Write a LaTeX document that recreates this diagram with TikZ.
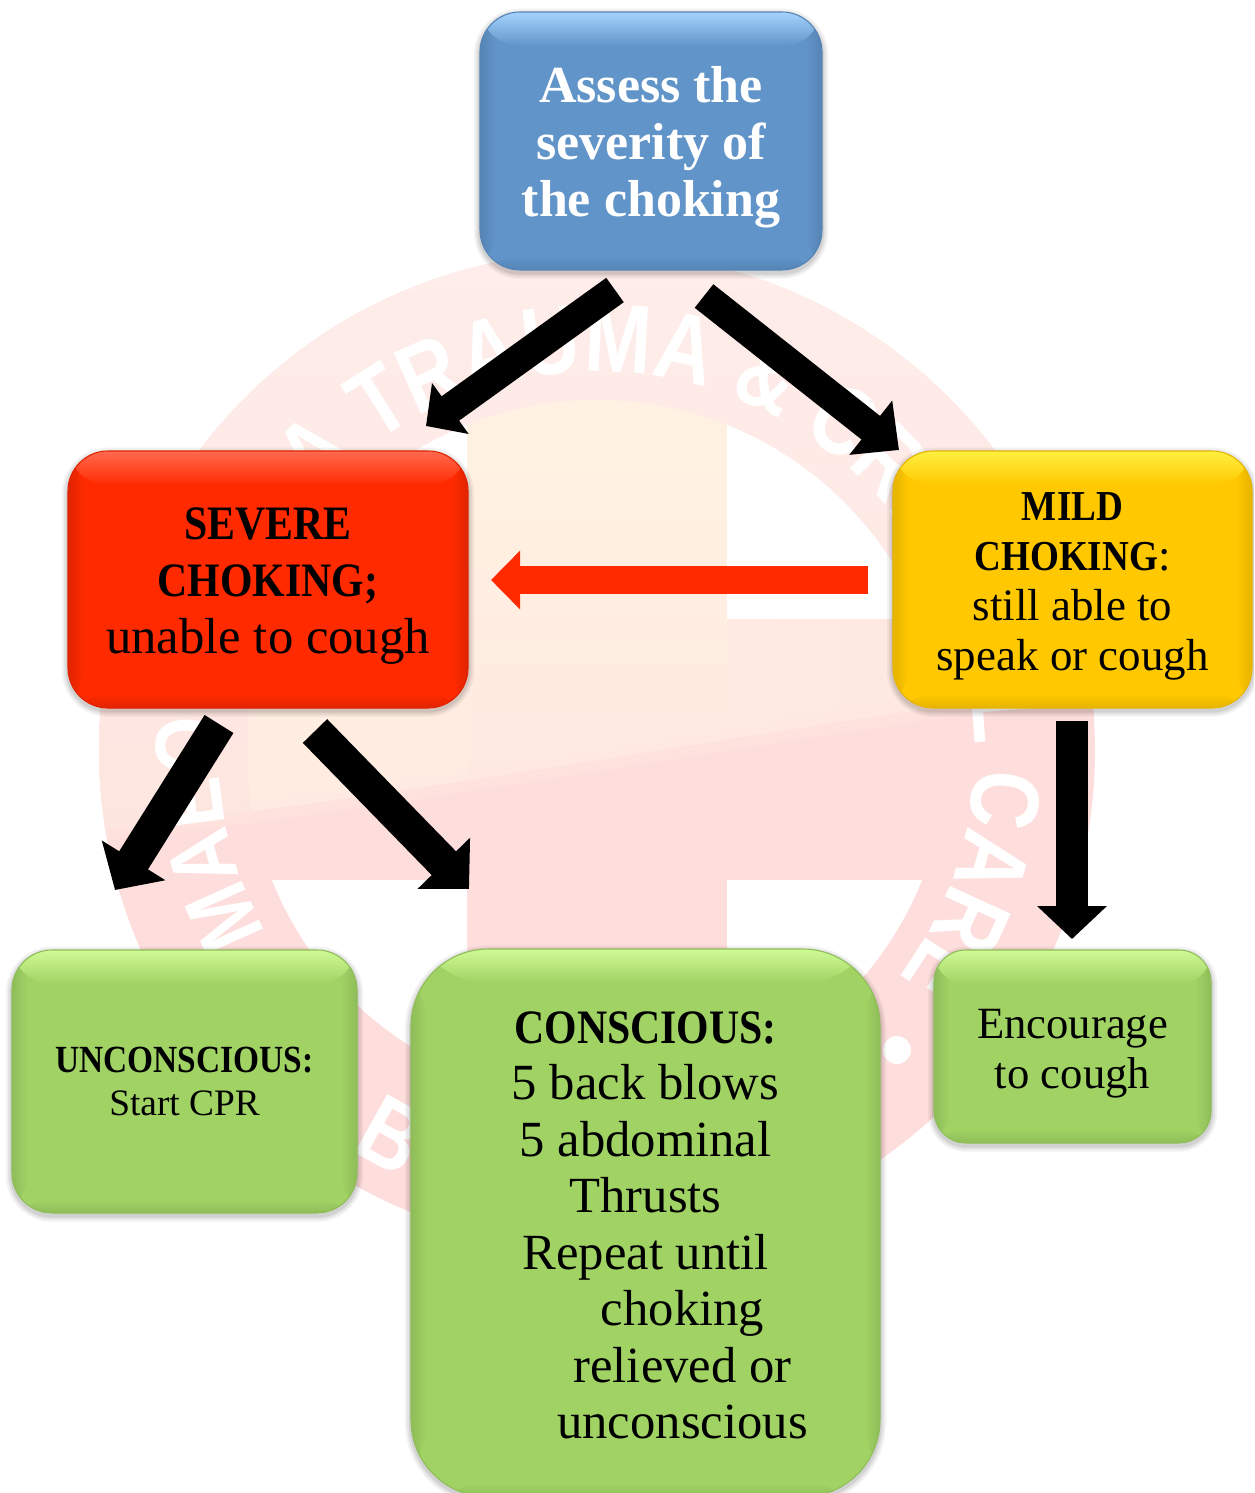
\documentclass[tikz,border=0pt]{standalone}
\usepackage{fontspec}
\setmainfont{Liberation Serif}
\newfontfamily\hb{Liberation Serif}[UprightFont=* Bold,FakeStretch=0.87]
\newfontfamily\bl{Liberation Serif}[UprightFont=* Bold]
\newfontfamily\wm{Liberation Sans}[UprightFont=* Bold,FakeStretch=0.825]
\usetikzlibrary{arrows.meta,calc,decorations.text}
\definecolor{redc}{HTML}{FF2A00}
\definecolor{bluec}{HTML}{6194C8}
\definecolor{bluet}{HTML}{A5D3FF}
\definecolor{blued}{HTML}{5584B5}
\definecolor{redt}{HTML}{FF6A50}
\definecolor{redd}{HTML}{E02400}
\definecolor{yelc}{HTML}{FFC800}
\definecolor{yelt}{HTML}{FFF040}
\definecolor{yeld}{HTML}{E6B400}
\definecolor{grnc}{HTML}{A0D264}
\definecolor{grnt}{HTML}{CFFA94}
\definecolor{grnd}{HTML}{8FBD59}
\definecolor{wmpink}{HTML}{FEDEDC}
\definecolor{wmtop}{HTML}{FEEDEA}
\definecolor{wmlow}{HTML}{FEE6E0}
\definecolor{crosstop}{HTML}{FFF2E2}
\definecolor{crosslow}{HTML}{FEE8E0}
\definecolor{armc}{HTML}{FFEDE2}
\tikzset{
  softshadow/.style={
    preaction={draw=black,opacity=.05,line width=9pt,transform canvas={yshift=-2pt}},
    preaction={draw=black,opacity=.06,line width=6pt,transform canvas={yshift=-2pt}},
    preaction={draw=black,opacity=.08,line width=3pt,transform canvas={yshift=-2pt}}},
  gloss/.style n args={3}{
    softshadow,draw=#3,line width=.8pt,
    path picture={
      \fill[#1] (path picture bounding box.south west) rectangle (path picture bounding box.north east);
      \shade[left color=#3,right color=#1] (path picture bounding box.south west) rectangle ($(path picture bounding box.north west)+(16,0)$);
      \shade[left color=#1,right color=#3] ($(path picture bounding box.south east)+(-16,0)$) rectangle (path picture bounding box.north east);
      \shade[top color=#1,bottom color=#3] ($(path picture bounding box.south west)+(0,-14)$) rectangle (path picture bounding box.south east);
      \shade[top color=#2,bottom color=#1] (path picture bounding box.north west) rectangle ($(path picture bounding box.north east)+(0,34)$);
    }},
  flow/.style={inner sep=0pt,align=center,text=black},
  fat/.style n args={3}{line width=#1*.75pt,-{Triangle[width=#2*.75pt,length=#3*.75pt]}},
}
\begin{document}
\begin{tikzpicture}[x=.75pt,y=-.75pt]
\useasboundingbox (0,0) rectangle (1254,1493);
\clip (0,0) rectangle (1254,1493);
\fill[white] (0,0) rectangle (1254,1493);
% ---- watermark ----
\coordinate (wmc) at (597,750);
\draw[black!9,line width=3pt] ($(wmc)+(-430,258)$) .. controls ($(wmc)+(-280,440)$) and ($(wmc)+(280,440)$) .. ($(wmc)+(430,258)$);
\fill[wmpink] (wmc) circle[radius=373.5pt];
\begin{scope}
  \clip (wmc) circle[radius=373.5pt];
  \shade[top color=wmtop,bottom color=wmlow] (90,830) .. controls (400,800) and (800,720) .. (1110,685) -- (1110,250) -- (90,250) -- cycle;
  \begin{scope}
    \clip (90,830) .. controls (400,800) and (800,720) .. (1110,685) -- (1110,250) -- (90,250) -- cycle;
    \clip (wmc) circle[radius=262.5pt];
    \fill[armc] (248,618) rectangle (600,880);
    \shade[left color=armc,right color=crosslow] (600,618) rectangle (946,880);
    \shade[top color=crosstop,bottom color=crosslow] (467,399) rectangle (727,880);
  \end{scope}
  \draw[crosslow,line width=9pt,opacity=.35] (90,830) .. controls (400,800) and (800,720) .. (1110,685);
  \draw[crosslow,line width=18pt,opacity=.25] (90,830) .. controls (400,800) and (800,720) .. (1110,685);
\end{scope}
\begin{scope}\clip (200,380) rectangle (467,618);\fill[white] (wmc) circle[radius=262.5pt];\end{scope}
\begin{scope}\clip (727,380) rectangle (1000,618);\fill[white] (wmc) circle[radius=262.5pt];\end{scope}
\begin{scope}\clip (200,880) rectangle (467,1120);\fill[white] (wmc) circle[radius=262.5pt];\end{scope}
\begin{scope}\clip (727,880) rectangle (1000,1120);\fill[white] (wmc) circle[radius=262.5pt];\end{scope}
\begin{scope}[shift={(597,750)},x=.75pt,y=.75pt]
  \path[decorate,decoration={text along path,text color=white,text align=left,
     text={|\wm\fontsize{73}{73}\selectfont|A TRAUMA {\&} CRITICAL CARE}}]
     (138:283.5pt) arc[start angle=138,end angle=-60,radius=283.5pt];
  \path[decorate,decoration={text along path,text color=white,text align=left,
     text={|\wm\fontsize{68}{68}\selectfont|MAEO}}]
     (209:283.5pt) arc[start angle=209,end angle=160,radius=283.5pt];
\end{scope}
\node[circle,fill=white,inner sep=0pt,minimum size=21pt] (wmdot) at (897,1050) {};
\node[text=white,inner sep=0pt,rotate=-29,font=\wm\fontsize{73}{73}\selectfont] (wmb) at (392,1135) {B};
% ---- boxes ----
\node[flow,text=white,gloss={bluec}{bluet}{blued},rounded corners=30pt,minimum width=256.5pt,minimum height=193.5pt,
  font=\bl\fontsize{39}{42.75}\selectfont] (assess) at (651,141)
  {\rule{0pt}{36pt}Assess the\\severity of\\the choking};
\node[flow,gloss={redc}{redt}{redd},rounded corners=30pt,minimum width=300pt,minimum height=192.75pt,
  font=\fontsize{38}{42.75}\selectfont] (severe) at (268,579.5)
  {\rule{0pt}{34pt}{\hb\fontsize{36}{42.75}\selectfont SEVERE}\\{\hb\fontsize{36}{42.75}\selectfont CHOKING;}\\unable to cough};
\node[flow,gloss={yelc}{yelt}{yeld},rounded corners=30pt,minimum width=269.25pt,minimum height=192.75pt,
  font=\fontsize{33.7}{37.5}\selectfont] (mild) at (1072.5,579.5)
  {\rule{0pt}{31.6pt}{\hb\fontsize{32}{37.5}\selectfont MILD}\\{\hb\fontsize{32}{37.5}\selectfont CHOKING}:\\still able to\\speak or cough};
\node[flow,gloss={grnc}{grnt}{grnd},rounded corners=30pt,minimum width=258.75pt,minimum height=197.25pt,
  font=\fontsize{28}{32}\selectfont] (uncon) at (184.5,1081.5)
  {{\hb\fontsize{28.8}{32}\selectfont UNCONSCIOUS:}\\Start CPR};
\node[flow,gloss={grnc}{grnt}{grnd},rounded corners=58pt,minimum width=351.75pt,minimum height=411pt,
  font=\fontsize{38}{42.4}\selectfont] (consc) at (645.5,1223)
  {\rule{0pt}{27.3pt}{\hb\fontsize{36}{42.4}\selectfont CONSCIOUS:}\\5 back blows\\5 abdominal\\Thrusts\\Repeat until\\\hspace*{55.5pt}choking\\\hspace*{55.5pt}relieved or\\\hspace*{55.5pt}unconscious};
\node[flow,gloss={grnc}{grnt}{grnd},rounded corners=24pt,minimum width=207.75pt,minimum height=144.75pt,
  font=\fontsize{33.5}{37.5}\selectfont] (encour) at (1072.5,1046.5)
  {\rule{0pt}{32.6pt}Encourage\\to cough};
% ---- connectors ----
\coordinate (a1s) at (615,290);   \coordinate (a1e) at (426,426);
\coordinate (a2s) at (704,296);   \coordinate (a2e) at (899,450);
\coordinate (a3s) at (868,580);   \coordinate (a3e) at (491,580);
\coordinate (a4s) at (219,724);   \coordinate (a4e) at (115,890);
\coordinate (a5s) at (315,731);   \coordinate (a5e) at (469,889);
\coordinate (a6s) at (1072,721);  \coordinate (a6e) at (1072,939);
\draw[fat={30}{61}{30},black] (a1s) -- (a1e);
\draw[fat={30}{67}{36},black] (a2s) -- (a2e);
\draw[fat={28}{57}{29},redc] (a3s) -- (a3e);
\draw[fat={34}{73}{35},black] (a4s) -- (a4e);
\draw[fat={34}{71}{36},black] (a5s) -- (a5e);
\draw[fat={32}{68}{33},black] (a6s) -- (a6e);
\end{tikzpicture}
\end{document}
